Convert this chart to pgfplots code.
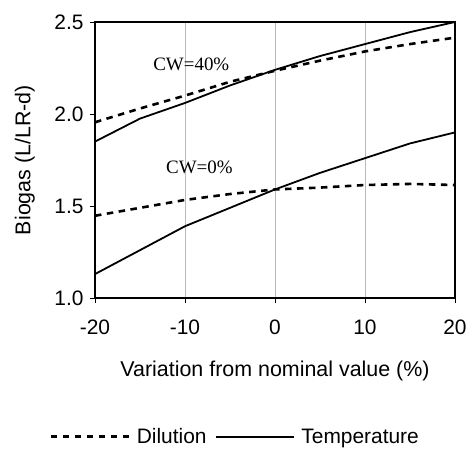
\documentclass[border=0pt]{standalone}
\usepackage{pgfplots}
\pgfplotsset{compat=1.18}
\usepackage{fontspec}
\setmainfont{Liberation Sans}
\newfontfamily\tnr{Liberation Serif}
\begin{document}
\begin{tikzpicture}
\path[use as bounding box] (-95bp,-151bp) rectangle (373bp,298bp);
\begin{axis}[
  at={(0,0)}, anchor=south west,
  scale only axis, width=360bp, height=276bp,
  xmin=-20, xmax=20, ymin=1, ymax=2.5,
  xtick={-20,-10,0,10,20}, ytick={1,1.5,2,2.5},
  xtick pos=left, ytick pos=left,
  tick align=outside, major tick length=5bp,
  tick style={black, line width=0.8bp},
  axis line style={line width=1.3bp},
  xmajorgrids, grid style={gray!55, line width=0.6bp},
  /pgf/number format/assume math mode=true,
  yticklabel style={/pgf/number format/fixed, /pgf/number format/fixed zerofill, /pgf/number format/precision=1, xshift=-3bp},
  ticklabel style={font=\fontsize{21}{25}\selectfont},
  xticklabel style={yshift=-13bp},
  label style={font=\fontsize{21.5}{25}\selectfont},
  xlabel={Variation from nominal value (\%)},
  ylabel={Biogas (L/LR-d)},
  xlabel style={at={(axis description cs:0.5,-0.265)}, anchor=center},
  ylabel style={at={(axis description cs:-0.195,0.5)}, anchor=center},
  legend columns=2,
  legend style={draw=none, fill=none, at={(axis description cs:0.389,-0.5025)}, anchor=center,
    font=\fontsize{21}{25}\selectfont,
    /tikz/every odd column/.append style={column sep=5bp},
    /tikz/every even column/.append style={column sep=6bp}},
  legend image code/.code={\draw[#1] (0bp,0bp) -- (78bp,0bp);},
  dil/.style={black, line width=2.6bp, dash pattern=on 6.5bp off 5.5bp},
  tmp/.style={black, line width=1.8bp},
]
\addplot[dil] coordinates {(-20,1.955) (-15,2.03) (-10,2.10) (-5,2.175) (0,2.235) (5,2.29) (10,2.34) (15,2.38) (20,2.415)};
\addlegendentry{Dilution}
\addplot[tmp] coordinates {(-20,1.85) (-15,1.975) (-10,2.06) (-5,2.155) (0,2.24) (5,2.315) (10,2.38) (15,2.445) (20,2.5)};
\addlegendentry{Temperature}
\addplot[dil, forget plot] coordinates {(-20,1.447) (-15,1.49) (-10,1.533) (-5,1.565) (0,1.59) (5,1.60) (10,1.614) (15,1.62) (20,1.614)};
\addplot[tmp, forget plot] coordinates {(-20,1.13) (-15,1.26) (-10,1.39) (-5,1.49) (0,1.59) (5,1.68) (10,1.76) (15,1.84) (20,1.90)};
\node[font=\tnr\fontsize{19}{22}\selectfont] at (axis cs:-9.3,2.27) {CW=40\%};
\node[font=\tnr\fontsize{19}{22}\selectfont] at (axis cs:-8.4,1.71) {CW=0\%};
\end{axis}
\end{tikzpicture}
\end{document}
